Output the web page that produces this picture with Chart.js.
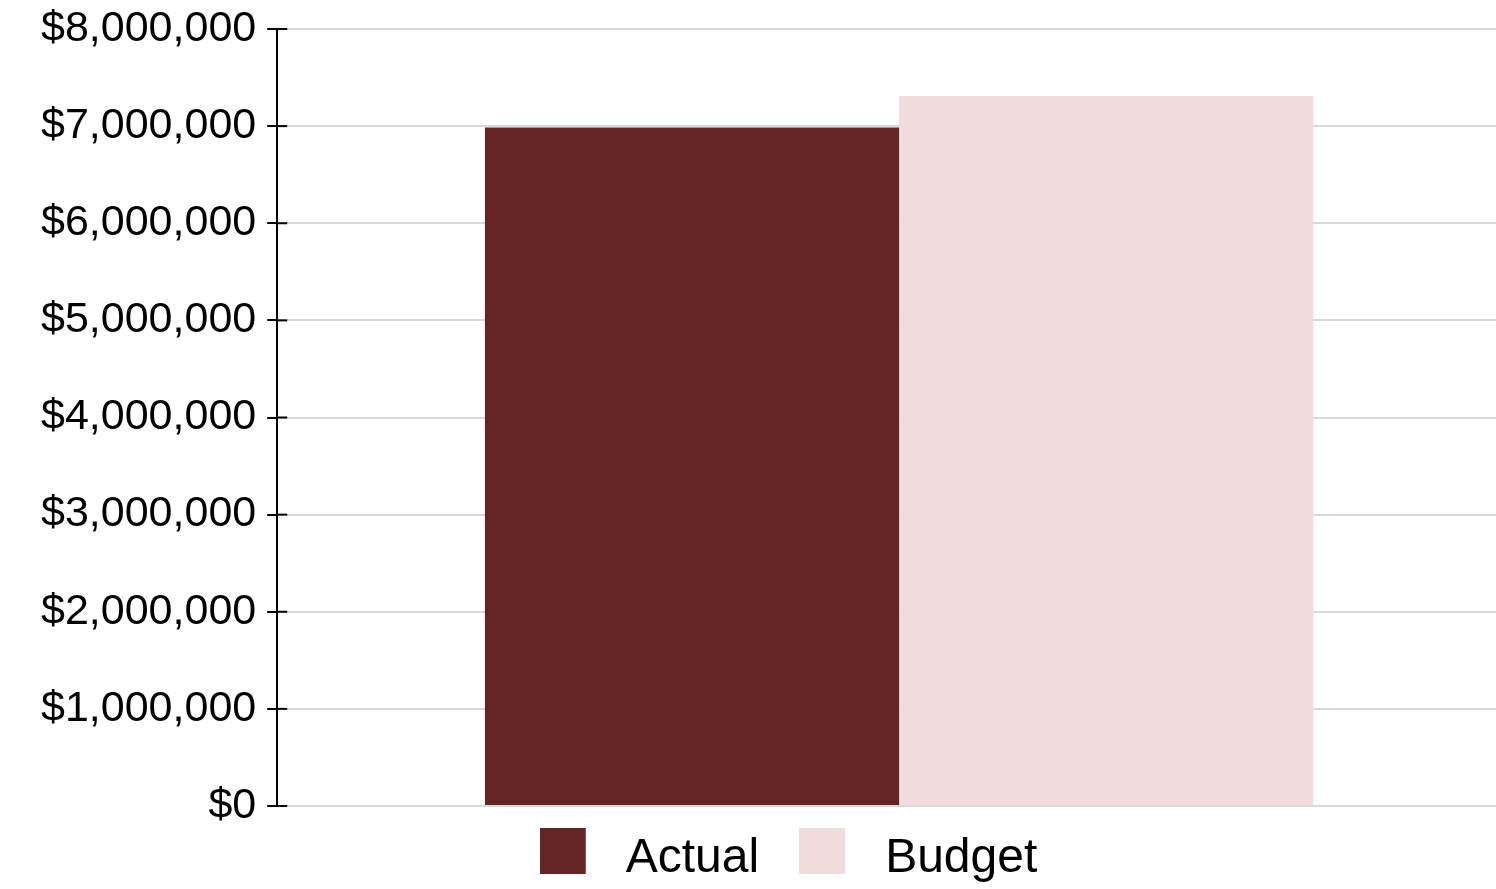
<!DOCTYPE html>
<html>
<head>
<meta charset="utf-8">
<script src="https://cdn.jsdelivr.net/npm/chart.js@4/dist/chart.umd.min.js"></script>
<style>
  html, body { margin: 0; padding: 0; background: #fff; overflow: hidden; }
  .wrap { width: 1521px; height: 889px; }
</style>
</head>
<body>
<div class="wrap"><canvas id="myChart"></canvas></div>
<script>
// data
let categories = [''];
let seriesNames = ['Actual', 'Budget'];
let actualValues = [6985000];
let budgetValues = [7310000];
let seriesColors = ['#632425', '#f0dcdc'];
let yTicks = [0, 1000000, 2000000, 3000000, 4000000, 5000000, 6000000, 7000000, 8000000];

Chart.defaults.font.family = "'Liberation Sans', Arial, sans-serif";
Chart.defaults.color = '#000';

// legend swatch: square in the top left, empty space right and below
// so the text sits on the square's baseline
function swatch(color) {
    const c = document.createElement('canvas');
    c.width = 62;
    c.height = 62;
    const g = c.getContext('2d');
    g.fillStyle = color;
    g.fillRect(0, 0, 46, 46);
    return c;
}

const innerTicks = {
    id: 'innerTicks',
    afterLayout(chart) {
        // legend sits a little right of centre
        chart.legend.left += 13;
        chart.legend.right += 13;
    },
    // tick marks cross the axis line, draw the inner half in black
    afterDraw(chart) {
        const y = chart.scales.y;
        const ctx = chart.ctx;
        const left = chart.chartArea.left;
        ctx.save();
        ctx.strokeStyle = '#000';
        ctx.lineWidth = 2;
        y.ticks.forEach(function (t) {
            const py = y.getPixelForValue(t.value);
            ctx.beginPath();
            ctx.moveTo(left, py);
            ctx.lineTo(left + 10, py);
            ctx.stroke();
        });
        ctx.restore();
    }
};

const data = {
    labels: categories,
    datasets: [{
        label: seriesNames[0],
        data: actualValues,
        backgroundColor: seriesColors[0],
        borderWidth: 0
    }, {
        label: seriesNames[1],
        data: budgetValues,
        backgroundColor: seriesColors[1],
        borderWidth: 0
    }]
};

const config = {
    type: 'bar',
    data: data,
    options: {
        responsive: true,
        maintainAspectRatio: false,
        animation: false,
        categoryPercentage: 0.666,
        barPercentage: 1,
        layout: {
            padding: { left: 30, top: 0, right: 0, bottom: -15 }
        },
        plugins: {
            legend: {
                position: 'bottom',
                labels: {
                    usePointStyle: true,
                    pointStyleWidth: 62,
                    boxHeight: 46,
                    padding: 40,
                    font: { size: 48 },
                    generateLabels(chart) {
                        return chart.data.datasets.map((ds, i) => ({
                            text: ds.label,
                            fillStyle: ds.backgroundColor,
                            strokeStyle: ds.backgroundColor,
                            lineWidth: 0,
                            pointStyle: swatch(ds.backgroundColor),
                            hidden: false,
                            datasetIndex: i
                        }));
                    }
                }
            },
            tooltip: { enabled: false }
        },
        scales: {
            x: {
                display: true,
                grid: { display: false },
                border: { display: false },
                ticks: { display: false },
                afterFit(scale) { scale.height = -11; }
            },
            y: {
                min: 0,
                max: 8000000,
                afterBuildTicks(scale) {
                    scale.ticks = yTicks.map(v => ({ value: v }));
                },
                afterFit(scale) {
                    scale.paddingTop = 29;
                    scale.paddingBottom = 0;
                },
                border: { display: true, color: '#000', width: 2 },
                grid: {
                    color: '#d9d9d9',
                    lineWidth: 2,
                    tickColor: '#000',
                    tickLength: 10
                },
                ticks: {
                    padding: 11,
                    font: { size: 43 },
                    callback: v => '$' + Number(v).toLocaleString('en-US')
                }
            }
        }
    },
    plugins: [innerTicks]
};

const chart1 = new Chart(document.getElementById('myChart').getContext('2d'), config);
</script>
</body>
</html>
